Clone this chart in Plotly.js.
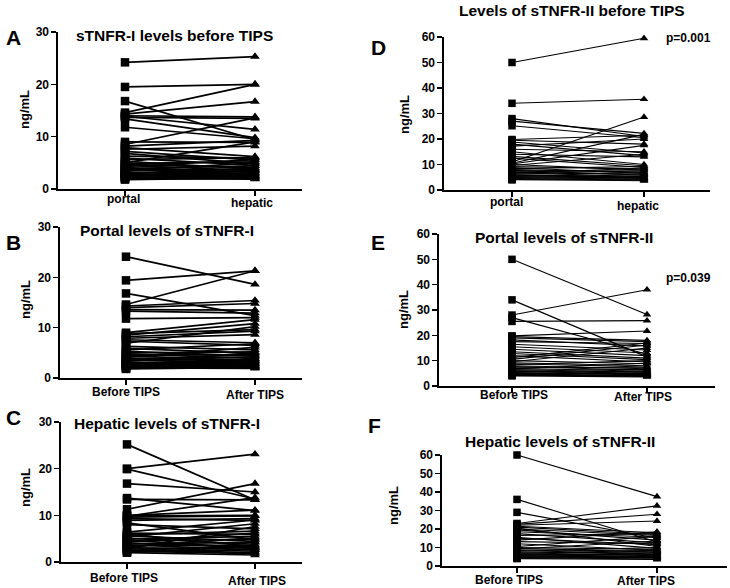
<!DOCTYPE html>
<html><head><meta charset="utf-8">
<script src="https://cdn.plot.ly/plotly-3.0.1.min.js"></script>
<style>body{margin:0;background:#fff}#c{width:730px;height:588px}</style>
</head><body><div id="c"></div>
<script>
// ---- data ----
const catsSite = ["portal", "hepatic"];
const catsTime = ["Before TIPS", "After TIPS"];

const A_portal  = [24.2,19.5,16.8,14.6,14.3,14.0,13.9,13.7,13.4,11.8,9.0,8.5,8.2,7.9,7.6,5.0,7.2,6.8,6.3,5.9,5.6,5.3,4.9,4.7,4.5,4.3,4.1,3.9,3.8,3.6,3.5,3.3,3.1,3.0,2.9,2.8,2.6,2.5,2.4,2.3,2.2,2.0,1.9,1.8];
const A_hepatic = [25.3,20.0,9.4,20.0,16.7,13.8,11.4,13.5,9.8,9.6,8.9,13.6,9.3,6.2,8.2,9.0,5.5,4.8,5.9,4.5,6.0,3.8,5.2,4.1,3.5,5.6,3.2,4.4,2.9,3.7,5.0,2.6,3.4,4.0,2.4,3.1,2.2,2.8,3.6,2.0,2.5,1.9,2.3,2.1];

const B_before = [24.1,19.4,16.8,14.6,14.3,14.0,13.6,13.3,11.8,9.0,8.8,8.5,8.2,7.9,7.6,7.3,6.9,6.3,5.9,5.6,5.3,5.0,4.8,4.6,4.4,4.2,4.0,3.8,3.6,3.5,3.3,3.1,3.0,2.9,2.7,2.6,2.5,2.4,2.3,2.2,2.0,1.9,1.8];
const B_after  = [18.6,21.3,12.4,21.3,15.4,14.8,13.5,12.9,12.0,11.6,9.6,10.8,9.3,8.6,7.0,6.5,10.2,5.6,4.9,6.8,4.4,5.2,3.9,4.6,3.5,6.1,3.2,4.2,2.9,3.7,5.0,2.7,3.4,2.4,3.0,2.2,2.8,3.8,2.0,2.5,1.9,2.3,2.1];

const C_before = [25.2,20.0,19.9,16.8,13.7,13.4,11.3,9.8,10.0,9.9,9.6,9.3,8.9,8.4,8.0,6.4,6.2,6.0,5.8,5.6,5.4,5.1,4.9,4.7,4.5,4.3,4.1,3.9,3.7,3.5,3.3,3.1,3.0,2.8,2.6,2.5,2.3,2.1,2.0];
const C_after  = [13.3,23.1,13.5,15.0,11.0,13.3,16.8,13.8,11.1,10.0,9.9,8.9,9.3,4.8,7.1,9.0,5.9,3.3,6.6,4.4,8.2,3.8,5.5,2.9,4.9,6.2,3.1,4.2,2.6,3.6,5.2,2.3,3.0,7.6,2.0,3.4,1.8,2.7,1.5];

const D_portal  = [50.0,34.0,28.0,27.0,25.2,19.8,19.5,18.8,18.0,17.2,16.0,15.0,14.0,13.2,12.5,11.0,10.5,10.2,10.0,9.6,9.2,8.8,8.4,8.0,7.7,7.4,7.0,6.8,6.5,6.2,6.0,5.8,5.5,5.3,5.1,4.9,4.7,4.5,4.3,4.1,4.0];
const D_hepatic = [59.5,35.6,21.0,22.2,20.5,21.5,18.0,14.5,13.5,20.0,15.0,10.0,13.0,9.5,8.8,28.6,21.8,17.5,7.8,14.0,8.2,6.5,9.2,7.0,5.8,7.5,6.2,5.2,8.6,6.8,5.0,4.8,6.0,4.6,5.5,4.2,5.0,3.8,4.4,3.6,4.0];

const E_before = [50.0,34.0,28.0,27.0,25.5,19.8,19.5,19.0,18.2,17.5,16.5,15.5,14.5,13.5,12.8,12.0,11.2,10.5,10.0,9.6,9.2,8.8,8.4,8.0,7.7,7.4,7.0,6.8,6.5,6.2,6.0,5.8,5.5,5.3,5.0,4.8,4.6,4.4,4.2,4.0];
const E_after  = [28.2,11.5,38.0,12.5,25.8,21.7,18.0,17.5,15.8,16.8,14.2,13.0,12.0,11.0,10.4,9.5,17.0,16.2,8.8,15.0,8.0,7.5,10.0,6.8,6.2,7.2,5.8,9.0,5.4,6.5,5.0,4.6,5.8,4.4,4.8,4.0,5.2,3.8,4.3,3.6];

const F_before = [60.0,36.0,29.0,23.0,22.5,22.0,21.5,21.0,20.5,20.0,19.5,18.5,17.5,16.5,15.5,15.0,14.0,13.2,12.0,10.5,10.0,9.6,9.2,8.8,8.4,8.0,7.6,7.2,6.8,6.5,6.2,5.9,5.6,5.3,5.0,4.8,4.5,4.2,4.0];
const F_after  = [37.5,13.0,15.0,32.5,28.0,24.3,18.0,17.0,10.5,16.5,14.0,15.5,12.5,17.5,9.5,11.5,18.5,12.0,8.5,16.0,9.0,7.5,13.5,8.0,6.5,10.0,7.0,5.5,8.5,6.0,5.0,7.2,4.5,6.2,4.2,5.4,3.8,4.8,3.5];

const yTicksI  = [0,10,20,30];
const yTicksII = [0,10,20,30,40,50,60];

// ---- layout helpers ----
const W = 730, H = 588;
const FONT = "Arial, 'Liberation Sans', sans-serif";
const panels = [
  {b:A_portal, a:A_hepatic, cats:catsSite, ax:[58,302], ay:[189,32], t0:125, t1:255, ymax:30, ticks:yTicksI, lw:1.7, ms:8.5,
   lab:[[123,199],[252,203]]},
  {b:B_before, a:B_after,   cats:catsTime, ax:[60,302], ay:[378,227], t0:126, t1:255, ymax:30, ticks:yTicksI, lw:1.7, ms:8.5,
   lab:[[126,392],[255,395]]},
  {b:C_before, a:C_after,   cats:catsTime, ax:[61,302], ay:[562,422], t0:127, t1:255, ymax:30, ticks:yTicksI, lw:1.7, ms:8.5,
   lab:[[124,578],[257,581]]},
  {b:D_portal, a:D_hepatic, cats:catsSite, ax:[444,710], ay:[190,37], t0:512, t1:644, ymax:60, ticks:yTicksII, lw:1.1, ms:7.5,
   lab:[[506,202],[638,206]]},
  {b:E_before, a:E_after,   cats:catsTime, ax:[439,715], ay:[386,234], t0:512, t1:647, ymax:60, ticks:yTicksII, lw:1.1, ms:7.5,
   lab:[[514,395],[643,397]]},
  {b:F_before, a:F_after,   cats:catsTime, ax:[442,727], ay:[566,455], t0:517, t1:657, ymax:60, ticks:yTicksII, lw:1.1, ms:7.5,
   lab:[[509,580],[646,581]]},
];

const data = [];
const layout = {width:W, height:H, margin:{l:0,r:0,t:0,b:0}, paper_bgcolor:'#fff', plot_bgcolor:'rgba(0,0,0,0)',
  showlegend:false, font:{family:FONT, color:'#000'}, annotations:[]};

function ann(text, x, y, size, opts) {
  layout.annotations.push(Object.assign({text:text, x:x/W, y:1-y/H, xref:'paper', yref:'paper',
    showarrow:false, xanchor:'center', yanchor:'middle',
    font:{family:FONT, size:size, weight:'bold', color:'#000'}}, opts||{}));
}

panels.forEach((p, i) => {
  const n = i + 1;
  const xs = n === 1 ? 'x' : 'x' + n, ys = n === 1 ? 'y' : 'y' + n;
  const lx = [], ly = [];
  for (let k = 0; k < p.b.length; k++) {
    lx.push(0, 1, null); ly.push(p.b[k], p.a[k], null);
  }
  data.push({type:'scatter', mode:'lines', x:lx, y:ly, xaxis:xs, yaxis:ys,
    line:{color:'#000', width:p.lw}, hoverinfo:'skip', cliponaxis:false});
  data.push({type:'scatter', mode:'markers', x:p.b.map(()=>0), y:p.b, xaxis:xs, yaxis:ys, cliponaxis:false,
    marker:{symbol:'square', size:p.ms, color:'#000'}});
  data.push({type:'scatter', mode:'markers', x:p.a.map(()=>1), y:p.a, xaxis:xs, yaxis:ys, cliponaxis:false,
    marker:{symbol:'triangle-up', size:p.ms, color:'#000'}});
  const u = p.t1 - p.t0;
  layout['xaxis' + (n === 1 ? '' : n)] = {
    domain:[p.ax[0]/W, p.ax[1]/W], anchor:ys,
    range:[(p.ax[0]-p.t0)/u, (p.ax[1]-p.t0)/u],
    tickvals:[0,1], showticklabels:false, ticks:'outside', ticklen:5, tickwidth:1.5, tickcolor:'#000',
    showline:true, linecolor:'#000', linewidth:1.6, showgrid:false, zeroline:false, fixedrange:true
  };
  layout['yaxis' + (n === 1 ? '' : n)] = {
    domain:[1 - p.ay[0]/H, 1 - p.ay[1]/H], anchor:xs,
    range:[0, p.ymax], tickvals:p.ticks, ticks:'outside', ticklen:5, tickwidth:1.5, tickcolor:'#000',
    showline:true, linecolor:'#000', linewidth:1.6, showgrid:false, zeroline:false,
    tickfont:{family:FONT, size:12, weight:'bold', color:'#000'}, fixedrange:true
  };
  // category labels (from data arrays)
  ann(p.cats[0], p.lab[0][0], p.lab[0][1], 12);
  ann(p.cats[1], p.lab[1][0], p.lab[1][1], 12);
});

// titles
ann('sTNFR-I levels before TIPS', 174, 35, 15.5);
ann('Portal levels of sTNFR-I', 167, 230, 15.5);
ann('Hepatic levels of sTNFR-I', 167, 423, 15.5);
ann('Levels of sTNFR-II before TIPS', 572, 11, 15.5);
ann('Portal levels of sTNFR-II', 564, 237, 15.5);
ann('Hepatic levels of sTNFR-II', 560, 442, 15.5);
// letters
ann('A', 13, 37, 21); ann('B', 13, 242, 21); ann('C', 13, 417, 21);
ann('D', 378, 47, 21); ann('E', 378, 243, 21); ann('F', 374, 425, 21);
// p-values
ann('p=0.001', 688, 38, 12); ann('p=0.039', 688, 278, 12);
// y titles
[[25,110],[25,300],[25,488],[405,115],[403,310],[393,505]].forEach(([x,y]) =>
  ann('ng/mL', x, y, 13, {textangle:-90}));

Plotly.newPlot('c', data, layout, {staticPlot:true});
</script></body></html>
